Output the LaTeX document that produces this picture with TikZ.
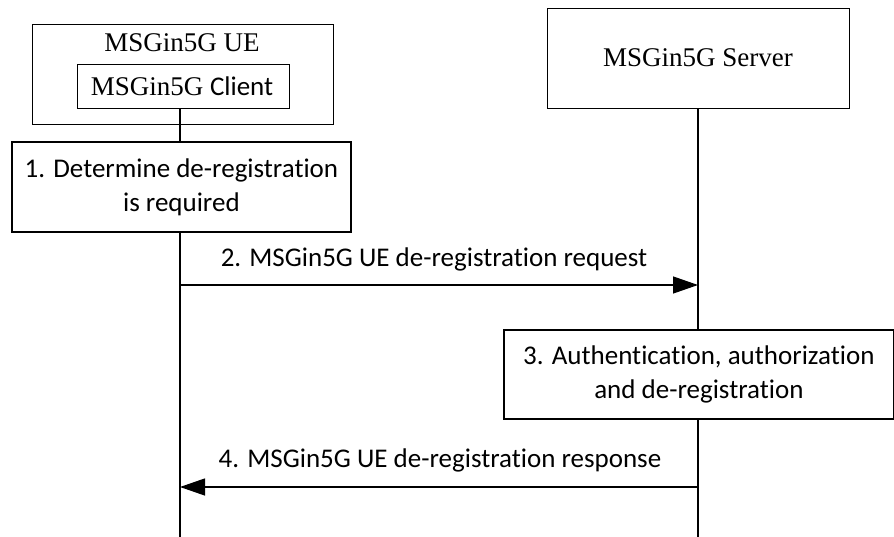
\documentclass[tikz,border=0pt]{standalone}
\usepackage{fontspec}
\setmainfont{Liberation Serif}
\newfontfamily\carlitofont[Ligatures=NoCommon]{Carlito}
\usetikzlibrary{arrows.meta}
\begin{document}
\begin{tikzpicture}[x=1pt,y=-1pt,
  entbox/.style={draw, line width=1pt, inner sep=0pt, anchor=north west},
  stepbox/.style={draw, line width=1.8pt, inner sep=0pt, anchor=north west, align=center, font=\carlitofont\fontsize{27}{34}\selectfont},
  lbl/.style={font=\fontsize{27}{30}\selectfont, inner sep=0pt},
  msglbl/.style={font=\carlitofont\fontsize{27}{30}\selectfont, inner sep=0pt},
  life/.style={line width=1.4pt},
  msg/.style={line width=1.3pt, -{Triangle[length=25pt,width=17pt]}}]
\useasboundingbox (0,0) rectangle (894,537);
% entities
\node[entbox, minimum width=301pt, minimum height=100pt] (ue) at (32,24) {};
\node[lbl] (uelbl) at (182,43) {MSGin5G UE};
\node[entbox, minimum width=212pt, minimum height=44pt] (client) at (77,64) {};
\node[lbl] (clientlbl) at (182,86) {MSGin5G {\carlitofont Client}};
\node[entbox, minimum width=302pt, minimum height=100pt] (srv) at (547,8) {};
\node[lbl] (srvlbl) at (698,58) {MSGin5G Server};
% steps
\node[stepbox, minimum width=339pt, minimum height=90pt] (s1) at (11,141) {1. Determine de-registration\\is required};
\node[stepbox, minimum width=390pt, minimum height=89pt] (s3) at (503,329) {3. Authentication, authorization\\and de-registration};
% lifeline ends
\coordinate (ueend) at (180,537);
\coordinate (srvend) at (698,537);
\coordinate (m2a) at (180,285);
\coordinate (m2b) at (698,285);
\coordinate (m4a) at (698,487);
\coordinate (m4b) at (180,487);
% lifelines
\draw[life] (client.south -| ueend) -- (s1.north -| ueend);
\draw[life] (s1.south -| ueend) -- (ueend);
\draw[life] (srv.south -| srvend) -- (s3.north -| srvend);
\draw[life] (s3.south -| srvend) -- (srvend);
% messages
\draw[msg] (m2a) -- (m2b);
\node[msglbl] (l2) at (434,259) {2. MSGin5G UE de-registration request};
\draw[msg] (m4a) -- (m4b);
\node[msglbl] (l4) at (440,460) {4. MSGin5G UE de-registration response};
\end{tikzpicture}
\end{document}
